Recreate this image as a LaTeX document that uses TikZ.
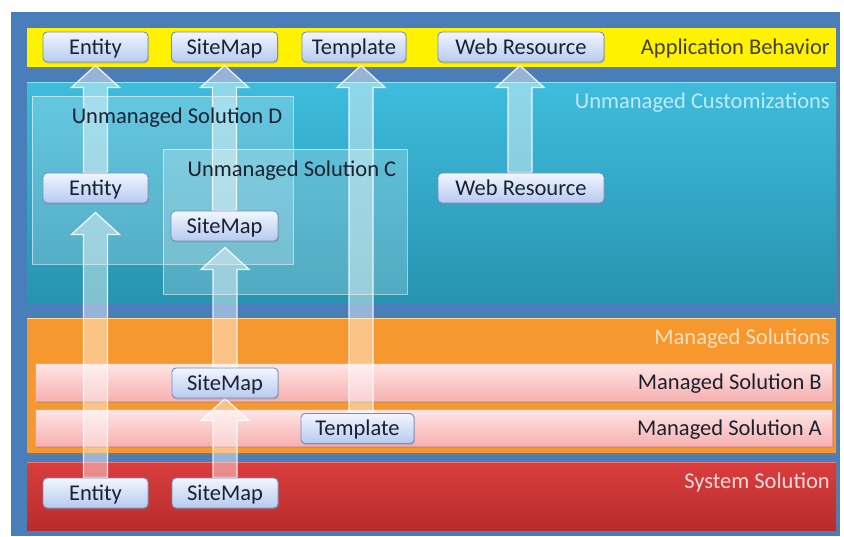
\documentclass[tikz,border=0pt]{standalone}
\usepackage{fontspec}
\setmainfont{Carlito}
\usetikzlibrary{calc,shadows}

\definecolor{frameblue}{HTML}{4A7EBB}
\definecolor{tealtop}{HTML}{3FBCDC}
\definecolor{tealbot}{HTML}{2694B0}
\definecolor{tealedge}{HTML}{8AE4F6}
\definecolor{orangefill}{HTML}{F7982E}
\definecolor{orangeedge}{HTML}{FFD88A}
\definecolor{pinktop}{HTML}{FFE6E6}
\definecolor{pinkbot}{HTML}{F6B0B0}
\definecolor{pinkedge}{HTML}{E79A9A}
\definecolor{redtop}{HTML}{DA3D3D}
\definecolor{redbot}{HTML}{B92C2C}
\definecolor{rededge}{HTML}{F07A7A}
\definecolor{nodetop}{HTML}{F2F6FF}
\definecolor{nodebot}{HTML}{B6CAF0}
\definecolor{nodeedge}{HTML}{6F8DC6}
\definecolor{nodetext}{HTML}{1A2230}

\pgfdeclarelayer{back}
\pgfdeclarelayer{mid}
\pgfsetlayers{back,mid,main}

% fat hollow arrow pointing up, from the first point to the tip given by the second
\newcommand\blockup[2]{%
  \path[blockarr] let \p1=#1, \p2=#2 in
    (\x1-12pt,\y1) -- (\x1-12pt,\y2-22pt) -- (\x1-24pt,\y2-22pt) -- (\x1,\y2)
    -- (\x1+24pt,\y2-22pt) -- (\x1+12pt,\y2-22pt) -- (\x1+12pt,\y1) -- cycle;}

\begin{document}
\begin{tikzpicture}[x=1pt,y=-1pt,
  font=\fontsize{22.5}{26}\selectfont,
  panel/.style={drop shadow={shadow xshift=1.5pt,shadow yshift=-2pt,opacity=0.35}},
  item/.style={draw=nodeedge,line width=0.9pt,rounded corners=4pt,
    top color=nodetop,bottom color=nodebot,text=nodetext,
    minimum width=105pt,minimum height=30pt,inner sep=0pt,
    text height=14pt,text depth=0pt,
    drop shadow={shadow xshift=1pt,shadow yshift=-1.5pt,opacity=0.3}},
  solbox/.style={draw=white,draw opacity=0.55,line width=1pt,fill=white,fill opacity=0.2},
  blockarr/.style={fill=white,fill opacity=0.42,draw=white,draw opacity=0.85,line width=1.3pt,line join=miter},
  lbl/.style={anchor=east,inner sep=0pt,text height=14pt,text depth=0pt}]
\useasboundingbox (0,0) rectangle (844,536);

\begin{pgfonlayer}{back}
\fill[white] (0,0) rectangle (844,536);
\fill[frameblue] (11,12) rectangle (840,536);
% layer bands
\path[panel,fill=yellow] (27,28) rectangle (836,67);
\path[panel,top color=tealtop,bottom color=tealbot] (27,82) rectangle (836,302);
\draw[tealedge,line width=1.5pt] (27,82.5) -- (836,82.5);
\path[panel,fill=orangefill] (27,318) rectangle (836,453);
\draw[orangeedge,line width=1.2pt] (27,318.5) -- (836,318.5);
\path[panel,top color=pinktop,bottom color=pinkbot,draw=pinkedge,line width=0.6pt] (35,363) rectangle (832,401);
\path[panel,top color=pinktop,bottom color=pinkbot,draw=pinkedge,line width=0.6pt] (35,409) rectangle (832,446);
\path[panel,top color=redtop,bottom color=redbot] (27,462) rectangle (836,530);
\draw[rededge,line width=1.2pt] (27,462.5) -- (836,462.5);
% unmanaged solutions
\path[solbox] (32,96) rectangle (293,264);
\path[solbox] (163,149) rectangle (407,294);
\end{pgfonlayer}

% band titles
\node[lbl,text=black!85!yellow] (tApp) at (830,47) {Application Behavior};
\node[lbl,text=cyan!25!white] (tUnm) at (830,101) {Unmanaged Customizations};
\node[lbl,text=orange!25!white] (tMan) at (830,337) {Managed Solutions};
\node[lbl,text=nodetext] (tMB) at (822,382) {Managed Solution B};
\node[lbl,text=nodetext] (tMA) at (822,428) {Managed Solution A};
\node[lbl,text=red!15!white] (tSys) at (830,481) {System Solution};
\node[lbl,anchor=center,text=nodetext] (tD) at (177,116) {Unmanaged Solution D};
\node[lbl,anchor=center,text=nodetext] (tC) at (292,169) {Unmanaged Solution C};

% components
\node[item] (eB) at (95.5,493) {Entity};
\node[item,minimum width=106pt] (sB) at (225,493) {SiteMap};
\node[item,minimum width=106pt] (sMB) at (225,383) {SiteMap};
\node[item,minimum width=113pt] (tA) at (357.5,428.5) {Template};
\node[item] (eM) at (95.5,188) {Entity};
\node[item,minimum width=107pt] (sM) at (224.5,226) {SiteMap};
\node[item,minimum width=166pt] (wM) at (521,188) {Web Resource};
\node[item] (eT) at (95.5,47) {Entity};
\node[item,minimum width=106pt] (sT) at (224.5,47) {SiteMap};
\node[item,minimum width=104pt] (tT) at (354,47) {Template};
\node[item,minimum width=166pt] (wT) at (521,47) {Web Resource};

% promotion arrows, beneath the component boxes
\begin{pgfonlayer}{mid}
\blockup{(eB.north)}{($(eM.south)+(0,9)$)}
\blockup{(eM.north)}{($(eT.south)+(0,3)$)}
\blockup{(sB.north)}{(sMB.south)}
\blockup{(sMB.north)}{($(sM.south)+(0,6)$)}
\blockup{(sM.north)}{($(sT.south)+(0,3)$)}
\blockup{($(tA.north)+(3.5,0)$)}{($(tT.south)+(0,3)$)}
\blockup{($(wM.north)+(-1,0)$)}{($(wT.south)+(0,3)$)}
\end{pgfonlayer}
\end{tikzpicture}
\end{document}
